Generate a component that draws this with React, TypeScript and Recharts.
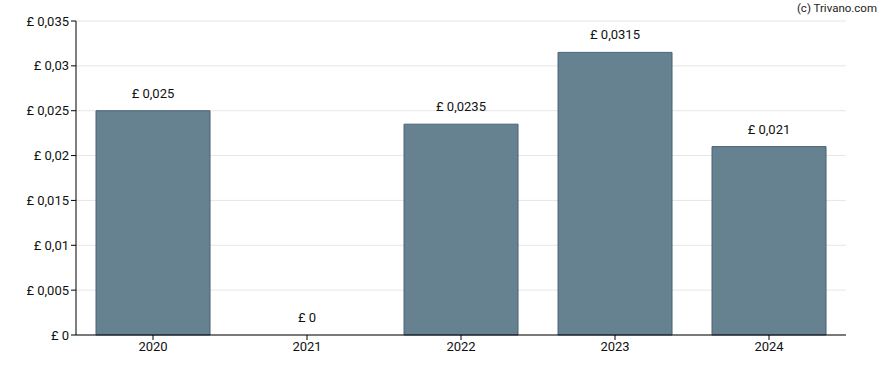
import { ComposedChart, Bar, Line, XAxis, YAxis, CartesianGrid, LabelList } from 'recharts'

const years = ['2020', '2021', '2022', '2023', '2024']
const dividends = [0.025, 0, 0.0235, 0.0315, 0.021]
const yTicks = [0, 0.005, 0.01, 0.015, 0.02, 0.025, 0.03, 0.035]

const fmt = (v: number) => '£ ' + String(v).replace('.', ',')

const data = years.map((year, i) => ({ year, value: dividends[i] }))

const tickStyle = { fill: '#111', fontSize: 13, fontFamily: 'Roboto, sans-serif' }

export default function App() {
  return (
    <div style={{ position: 'absolute', left: 0, top: 0, width: 888, height: 370, background: '#fff' }}>
      <ComposedChart
        width={888}
        height={370}
        data={data}
        margin={{ top: 21, right: 42, left: 0, bottom: 5 }}
        barCategoryGap="13%"
      >
        <CartesianGrid vertical={false} stroke="#e6e6e6" />
        <XAxis
          dataKey="year"
          height={30}
          stroke="#000"
          tickSize={5}
          tick={tickStyle}
          tickLine={{ stroke: '#000' }}
        />
        <YAxis
          width={76}
          domain={[0, 0.035]}
          ticks={yTicks}
          interval={0}
          stroke="#000"
          tickSize={5}
          tick={tickStyle}
          tickFormatter={fmt}
        />
        <Bar dataKey="value" fill="#66818f" stroke="#4a6377" strokeWidth={1} isAnimationActive={false} />
        {/* invisible line only carries the value labels, so the zero year gets one too */}
        <Line
          dataKey="value"
          stroke="none"
          dot={false}
          activeDot={false}
          legendType="none"
          isAnimationActive={false}
        >
          <LabelList
            dataKey="value"
            position="top"
            offset={13}
            formatter={(v: any) => fmt(Number(v))}
            style={{ fill: '#111', fontSize: 13, fontFamily: 'Roboto, sans-serif' }}
          />
        </Line>
        <text x={877} y={12} textAnchor="end" fontSize={11.5} fontFamily="Roboto, sans-serif" fill="#222">
          (c) Trivano.com
        </text>
      </ComposedChart>
    </div>
  )
}
